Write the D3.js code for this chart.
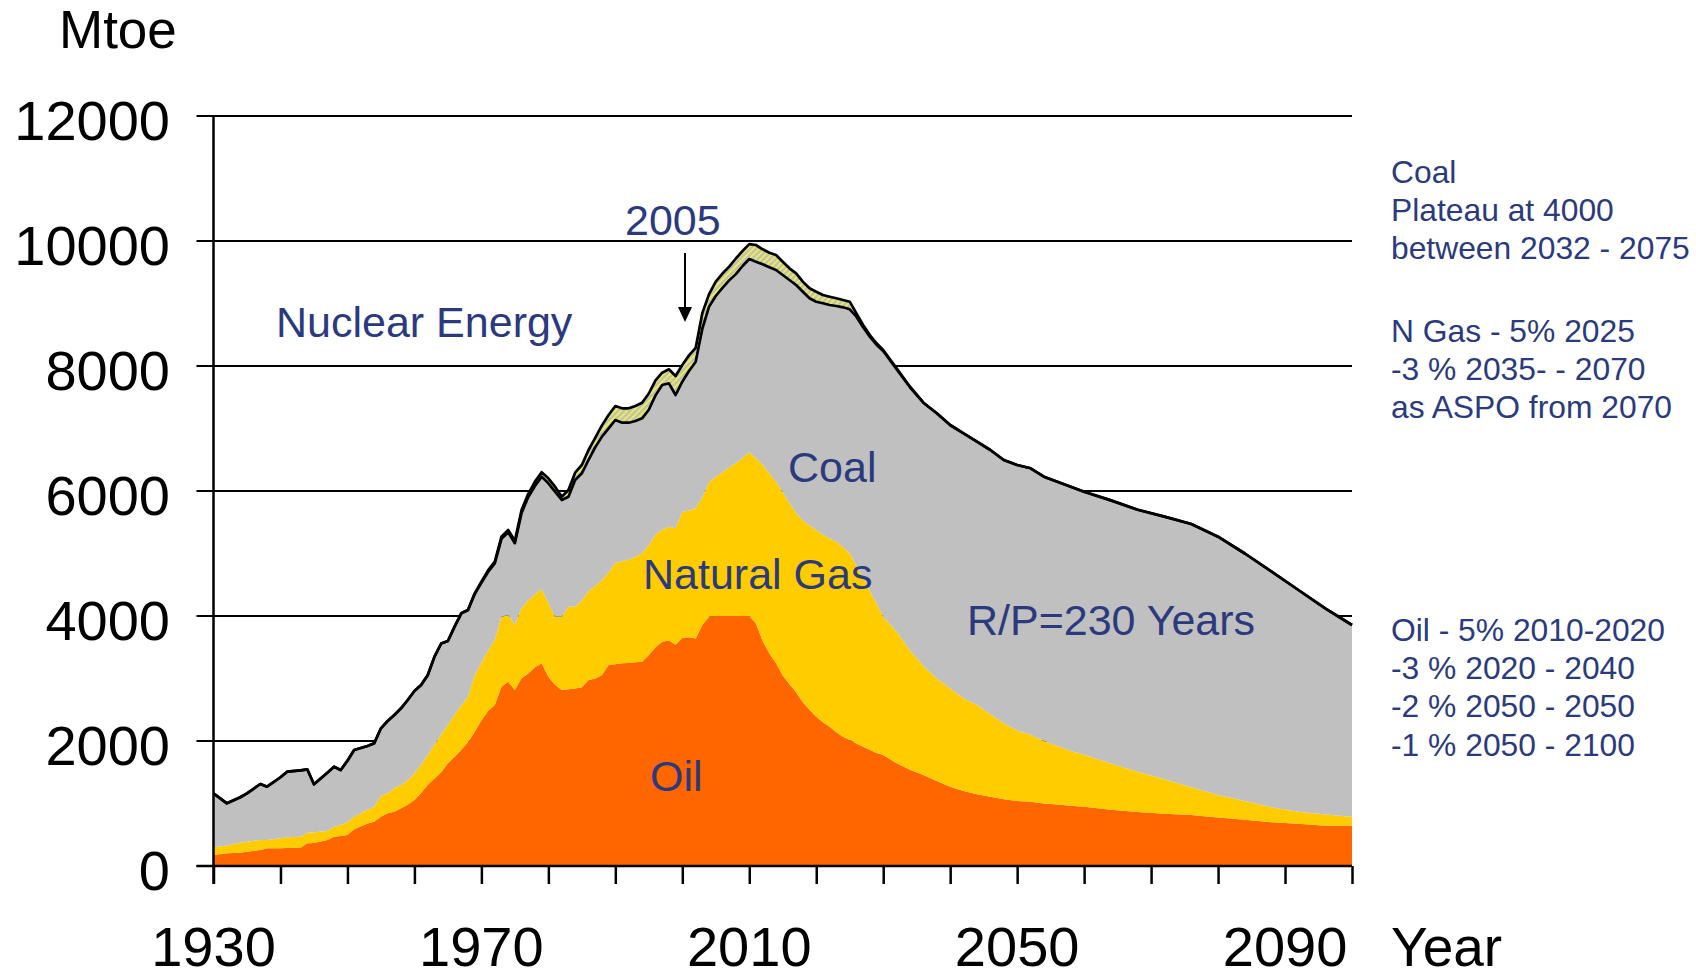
<!DOCTYPE html>
<html lang="en">
<head>
<meta charset="UTF-8">
<title>Mtoe scenario</title>
<script src="https://cdn.jsdelivr.net/npm/d3@7"></script>
<style>
  body { margin: 0; background: #fff; }
  svg { display: block; font-family: "Liberation Sans", Arial, sans-serif; }
</style>
</head>
<body>
<svg id="chart" width="1696" height="977"></svg>
<script>
// values, Mtoe per year
const years = [
  1930, 1932, 1934, 1935, 1937, 1938, 1940, 1941, 1943, 1944,
  1945, 1947, 1948, 1949, 1950, 1951, 1953, 1954, 1955, 1956,
  1957, 1958, 1959, 1960, 1961, 1962, 1963, 1964, 1965, 1966,
  1967, 1968, 1969, 1970, 1971, 1972, 1973, 1974, 1975, 1976,
  1977, 1978, 1979, 1980, 1981, 1982, 1983, 1984, 1985, 1986,
  1987, 1988, 1989, 1990, 1991, 1992, 1993, 1994, 1995, 1996,
  1997, 1998, 1999, 2000, 2001, 2002, 2003, 2004, 2005, 2006,
  2007, 2008, 2009, 2010, 2011, 2012, 2013, 2014, 2015, 2016,
  2017, 2018, 2019, 2020, 2021, 2022, 2023, 2024, 2025, 2026,
  2027, 2028, 2029, 2030, 2032, 2034, 2036, 2038, 2040, 2042,
  2044, 2046, 2048, 2050, 2052, 2054, 2056, 2058, 2060, 2064,
  2068, 2072, 2076, 2080, 2084, 2088, 2092, 2096, 2100
];
const oil = [
  176, 203, 213, 230, 256, 283, 285, 290, 293, 363,
  368, 416, 469, 480, 496, 587, 680, 709, 789, 843,
  870, 923, 980, 1056, 1170, 1300, 1400, 1500, 1643, 1750,
  1860, 1980, 2150, 2330, 2480, 2576, 2869, 2949, 2816, 3003,
  3080, 3180, 3243, 3029, 2900, 2816, 2827, 2840, 2859, 2976,
  3000, 3056, 3216, 3230, 3243, 3250, 3260, 3270, 3376, 3500,
  3590, 3610, 3540, 3650, 3659, 3640, 3856, 3990, 4000, 4000,
  4000, 4000, 4000, 4000, 3880, 3600, 3400, 3243, 3050, 2910,
  2780, 2620, 2500, 2389, 2300, 2229, 2140, 2070, 2016, 1960,
  1909, 1860, 1810, 1776, 1643, 1540, 1456, 1360, 1269, 1200,
  1150, 1109, 1070, 1040, 1029, 1000, 985, 965, 950, 900,
  865, 835, 815, 775, 740, 700, 675, 645, 645
];
const gas = [
  123, 127, 160, 160, 160, 133, 160, 169, 176, 170,
  172, 144, 160, 176, 204, 202, 220, 240, 331, 320,
  373, 377, 390, 427, 450, 476, 550, 600, 617, 670,
  710, 729, 906, 920, 970, 1040, 1120, 1067, 1040, 1120,
  1170, 1170, 1184, 1174, 1089, 1173, 1322, 1309, 1391, 1424,
  1480, 1520, 1484, 1613, 1637, 1650, 1690, 1733, 1760, 1800,
  1790, 1819, 1863, 2019, 2031, 2083, 2044, 2150, 2230, 2300,
  2380, 2443, 2530, 2619, 2640, 2816, 2880, 2906, 2930, 2893,
  2870, 2910, 2950, 2987, 3000, 3011, 3049, 3030, 2987, 2840,
  2711, 2540, 2390, 2213, 2107, 1910, 1744, 1640, 1571, 1480,
  1426, 1321, 1213, 1130, 1071, 1000, 935, 875, 830, 740,
  645, 555, 445, 361, 300, 240, 195, 180, 144
];
const coal = [
  864, 673, 727, 773, 896, 853, 975, 1050, 1061, 1014,
  767, 933, 960, 880, 985, 1067, 1020, 1014, 1083, 1157,
  1173, 1223, 1286, 1317, 1276, 1280, 1400, 1460, 1340, 1409,
  1473, 1387, 1294, 1280, 1255, 1224, 1246, 1324, 1309, 1527,
  1655, 1730, 1803, 1920, 2000, 1867, 1760, 2027, 2033, 2096,
  2220, 2294, 2303, 2293, 2213, 2193, 2170, 2160, 2164, 2230,
  2316, 2294, 2133, 2080, 2230, 2346, 2700, 2810, 2890, 2950,
  2990, 3027, 3070, 3093, 3149, 3211, 3299, 3387, 3476, 3573,
  3646, 3659, 3633, 3653, 3703, 3736, 3771, 3839, 3904, 3989,
  3999, 4070, 4140, 4251, 4200, 4210, 4213, 4243, 4216, 4243,
  4213, 4226, 4213, 4246, 4263, 4229, 4229, 4229, 4209, 4210,
  4190, 4200, 4212, 4133, 3960, 3769, 3546, 3298, 3067
];
const nuclear = [
  0, 0, 0, 0, 0, 0, 0, 0, 0, 0,
  0, 0, 0, 0, 0, 0, 0, 0, 0, 0,
  0, 0, 0, 0, 0, 0, 0, 0, 0, 0,
  0, 0, 13, 20, 25, 29, 34, 36, 40, 46,
  50, 70, 70, 80, 80, 53, 107, 117, 133, 160,
  150, 180, 213, 224, 230, 230, 240, 250, 260, 240,
  197, 224, 304, 267, 250, 221, 250, 200, 230, 230,
  220, 250, 240, 238, 267, 240, 234, 240, 213, 187,
  187, 160, 160, 160, 133, 133, 123, 117, 122, 54,
  37, 26, 23, 16, 13, 9, 0, 0, 0, 0,
  0, 0, 0, 0, 0, 0, 0, 0, 0, 0,
  0, 0, 0, 0, 0, 0, 0, 0, 0
];

const yTicks = [0, 2000, 4000, 6000, 8000, 10000, 12000];
const xTicks = [1930, 1940, 1950, 1960, 1970, 1980, 1990, 2000, 2010, 2020,
                2030, 2040, 2050, 2060, 2070, 2080, 2090, 2100];
const xLabels = [1930, 1970, 2010, 2050, 2090];

const areaLabels = [
  { text: "2005", x: 625, y: 235 },
  { text: "Nuclear Energy", x: 276, y: 337 },
  { text: "Coal", x: 788, y: 482 },
  { text: "Natural Gas", x: 643, y: 589 },
  { text: "Oil", x: 650, y: 791 },
  { text: "R/P=230 Years", x: 967, y: 635 }
];
const noteCoal = ["Coal", "Plateau at 4000", "between 2032 - 2075"];
const noteGas = ["N Gas - 5% 2025", "-3 % 2035- - 2070", "as ASPO from 2070"];
const noteOil = ["Oil - 5% 2010-2020", "-3 % 2020 - 2040", "-2 % 2050 - 2050", "-1 % 2050 - 2100"];

const textColor = "#2b3a7e";
const colors = { oil: "#ff6600", gas: "#ffcc00", coal: "#c0c0c0" };

const svg = d3.select("#chart");
const plotLeft = 213.5, plotRight = 1352, plotTop = 116, plotBottom = 866;

const x = d3.scaleLinear().domain([1930, 2100]).range([plotLeft, plotRight]);
const y = d3.scaleLinear().domain([0, 12000]).range([plotBottom, plotTop]);

// hatch for the nuclear band
const pat = svg.append("defs").append("pattern")
    .attr("id", "hatch")
    .attr("patternUnits", "userSpaceOnUse")
    .attr("width", 6).attr("height", 6);
pat.append("rect").attr("width", 6).attr("height", 6).attr("fill", "#c0c0c0");
pat.append("path")
    .attr("d", "M-1,1 L1,-1 M0,6 L6,0 M5,7 L7,5")
    .attr("stroke", "#f2f23a").attr("stroke-width", 1.6);

// gridlines (behind the areas)
svg.append("g").selectAll("line")
  .data(yTicks)
  .join("line")
    .attr("x1", plotLeft - 17).attr("x2", plotRight)
    .attr("y1", d => y(d)).attr("y2", d => y(d))
    .attr("stroke", "#000").attr("stroke-width", 2);

const rows = years.map((yr, i) => ({
  year: yr, oil: oil[i], gas: gas[i], coal: coal[i], nuclear: nuclear[i]
}));
const stacked = d3.stack().keys(["oil", "gas", "coal", "nuclear"])(rows);

const area = d3.area()
    .x(d => x(d.data.year))
    .y0(d => y(d[0]))
    .y1(d => y(d[1]));

svg.append("g").selectAll("path")
  .data(stacked)
  .join("path")
    .attr("d", area)
    .attr("fill", d => d.key === "nuclear" ? "url(#hatch)" : colors[d.key]);

const line = d3.line()
    .x(d => x(d.data.year))
    .y(d => y(d[1]));

// coal top and total top outlines
[stacked[2], stacked[3]].forEach(s => {
  svg.append("path")
      .attr("d", line(s))
      .attr("fill", "none")
      .attr("stroke", "#000")
      .attr("stroke-width", 2.7)
      .attr("stroke-linejoin", "round");
});

// x axis ticks
svg.append("g")
    .attr("transform", `translate(0,${plotBottom})`)
    .call(d3.axisBottom(x).tickValues(xTicks).tickSize(18).tickFormat(""))
    .call(g => g.select(".domain").remove())
    .call(g => g.selectAll(".tick line").attr("stroke", "#000").attr("stroke-width", 2.5));

svg.append("line")
    .attr("x1", plotLeft - 17).attr("x2", plotRight)
    .attr("y1", plotBottom).attr("y2", plotBottom)
    .attr("stroke", "#000").attr("stroke-width", 2.5);

svg.append("line")
    .attr("x1", plotLeft).attr("x2", plotLeft)
    .attr("y1", plotTop - 1).attr("y2", plotBottom + 18)
    .attr("stroke", "#000").attr("stroke-width", 2.5);

// y axis labels
svg.append("g")
    .attr("transform", `translate(${plotLeft},0)`)
    .call(d3.axisLeft(y).tickValues(yTicks).tickSize(0).tickPadding(43.5).tickFormat(d3.format("d")))
    .call(g => g.select(".domain").remove())
    .call(g => g.selectAll("text")
        .attr("dy", "0.42em")
        .attr("fill", "#000")
        .style("font-size", "56px")
        .style("font-family", "'Liberation Sans', Arial, sans-serif"));

// x labels
svg.append("g").selectAll("text")
  .data(xLabels)
  .join("text")
    .attr("x", d => x(d))
    .attr("y", 966)
    .attr("text-anchor", "middle")
    .attr("font-size", 56)
    .attr("fill", "#000")
    .text(d => d);

svg.append("text")
    .attr("x", 1391).attr("y", 966)
    .attr("font-size", 55).attr("fill", "#000")
    .text("Year");

svg.append("text")
    .attr("x", 59).attr("y", 48)
    .attr("font-size", 53).attr("fill", "#000")
    .text("Mtoe");

// labels inside the chart
svg.append("g").selectAll("text")
  .data(areaLabels)
  .join("text")
    .attr("x", d => d.x).attr("y", d => d.y)
    .attr("font-size", 43)
    .attr("fill", textColor)
    .text(d => d.text);

// arrow under "2005"
svg.append("line")
    .attr("x1", 685).attr("x2", 685)
    .attr("y1", 253).attr("y2", 309)
    .attr("stroke", "#000").attr("stroke-width", 2);
svg.append("path")
    .attr("d", "M678,307 L692,307 L685,322 Z")
    .attr("fill", "#000");

// notes at the right
function notes(lines, y0) {
  svg.append("g").selectAll("text")
    .data(lines)
    .join("text")
      .attr("x", 1391)
      .attr("y", (d, i) => y0 + i * 38.2)
      .attr("font-size", 31.8)
      .attr("fill", textColor)
      .text(d => d);
}
notes(noteCoal, 183);
notes(noteGas, 342);
notes(noteOil, 641);
</script>
</body>
</html>
